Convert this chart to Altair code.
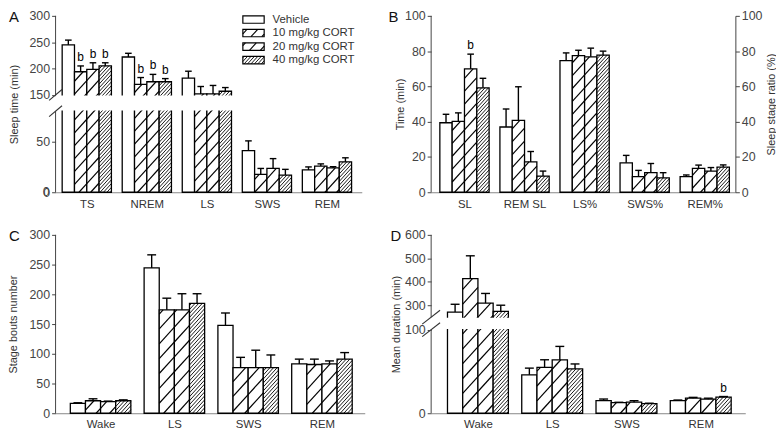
import json
import math
import altair as alt
import numpy as np
import pandas as pd

FONT = "Liberation Sans"
GROUPS = ["Vehicle", "10 mg/kg CORT", "20 mg/kg CORT", "40 mg/kg CORT"]

# ---------------- data ----------------
# Panel A: sleep time (min)
A_cats = ["TS", "NREM", "LS", "SWS", "REM"]
A_vehicle = [245, 222, 182, 41, 22]
A_cort10 = [194, 170, 152, 17.7, 25.8]
A_cort20 = [198.5, 175, 152, 23.5, 24]
A_cort40 = [205, 175, 157, 17, 30]
A_err_vehicle = [9, 7, 13, 9.7, 3]
A_err_cort10 = [11, 13, 14, 5.8, 2.2]
A_err_cort20 = [12.5, 14, 16, 9.7, 1.2]
A_err_cort40 = [6, 6, 7, 5.6, 4]
A_sig = [("TS", 1), ("TS", 2), ("TS", 3), ("NREM", 1), ("NREM", 2), ("NREM", 3)]

# Panel B: latencies (min) and stage ratios (%)
B_cats = ["SL", "REM SL", "LS%", "SWS%", "REM%"]
B_vehicle = [39.4, 37.0, 74.6, 16.7, 8.9]
B_cort10 = [40.2, 40.7, 77.4, 8.9, 13.5]
B_cort20 = [70.0, 17.2, 76.8, 11.1, 12.0]
B_cort40 = [59.2, 9.2, 77.8, 8.1, 14.3]
B_err_vehicle = [4.8, 10.2, 4.4, 4.2, 0.9]
B_err_cort10 = [4.8, 19.1, 3.1, 3.5, 1.9]
B_err_cort20 = [8.3, 5.9, 4.9, 5.2, 2.0]
B_err_cort40 = [5.4, 2.8, 2.2, 3.0, 1.2]
B_sig = [("SL", 2)]

# Panel C: stage bouts number
C_cats = ["Wake", "LS", "SWS", "REM"]
C_vehicle = [16.6, 244.4, 147.6, 83]
C_cort10 = [21, 174, 76.6, 82]
C_cort20 = [19.4, 174, 76.6, 83]
C_cort40 = [21, 184.6, 76.6, 91]
C_err_vehicle = [1, 22, 21, 8]
C_err_cort10 = [3.3, 19.5, 17.4, 9]
C_err_cort20 = [1, 27, 29.4, 5]
C_err_cort40 = [1.5, 16.4, 21.4, 11]
C_sig = []

# Panel D: mean duration (min)
D_cats = ["Wake", "LS", "SWS", "REM"]
D_vehicle = [272, 46, 15, 15]
D_cort10 = [414, 55, 12.6, 18]
D_cort20 = [310, 64, 13.2, 16.8]
D_cort40 = [275, 53, 11.4, 19.2]
D_err_vehicle = [33, 8, 2, 0.8]
D_err_cort10 = [97, 9, 0.5, 1]
D_err_cort20 = [41, 16, 1.8, 1.2]
D_err_cort40 = [26, 6, 0.6, 0.8]
D_sig = [("REM", 3)]

# ---------------- layout (styling, not data) ----------------
A_L = dict(W=309, H=178, xdom=(-0.52, 4.58), ydom=[0, 80, 150, 300],
           yrng=[178, 96.2, 79.8, 0], yticks=[0, 50, 150, 200, 250, 300],
           title="Sleep time (min)", titleX=-36, letter="A", letterX=-47,
           sparse=13, dense=3.8, cap=0.055, brk=(6.5, 5.5), lpad=6)
B_L = dict(W=307, H=178, xdom=(-0.555, 4.51), ydom=[0, 100], yrng=[178, 0],
           yticks=[0, 20, 40, 60, 80, 100], title="Time (min)", titleX=-26,
           letter="B", letterX=-43, sparse=13, dense=3.8, cap=0.055, lpad=6)
C_L = dict(W=312, H=180, xdom=(-0.61, 3.58), ydom=[0, 300], yrng=[180, 0],
           yticks=[0, 50, 100, 150, 200, 250, 300], title="Stage bouts number",
           titleX=-37, letter="C", letterX=-47, sparse=15, dense=4.0, cap=0.06, lpad=5)
D_L = dict(W=317, H=180, xdom=(-0.63, 3.6), ydom=[0, 100, 250, 600],
           yrng=[180, 95.7, 83.1, 0], yticks=[0, 100, 300, 400, 500, 600],
           title="Mean duration (min)", titleX=-30, letter="D", letterX=-41,
           sparse=15, dense=4.0, cap=0.06, brk=(9, 7), lpad=5)

BW = 0.205
SLOPE = 1.1


def hatch(x0, x1, u0, u1, s):
    out = []
    if u1 - u0 <= 0.3:
        return out
    kmin = math.floor((u0 - SLOPE * x1) / s) - 1
    kmax = math.ceil((u1 - SLOPE * x0) / s) + 1
    for k in range(kmin, kmax + 1):
        c = k * s
        xa = max(x0, (u0 - c) / SLOPE)
        xb = min(x1, (u1 - c) / SLOPE)
        if xb - xa > 0.4:
            out.append((xa, SLOPE * xa + c, xb, SLOPE * xb + c))
    return out


def make_panel(cats, means, errs, sig, L, legend=False, right_title=None, zero_label=False):
    W, H = L["W"], L["H"]
    xmin, xmax = L["xdom"]
    pxu = W / (xmax - xmin)
    ydom = L["ydom"]
    u_r = [H - r for r in L["yrng"]]

    def to_u(v):
        return float(np.interp(v, ydom, u_r))

    def to_v(u):
        return float(np.interp(u, u_r, ydom))

    def to_xp(xd):
        return (xd - xmin) * pxu

    def to_xd(xp):
        return xmin + xp / pxu

    xscale = alt.Scale(domain=[xmin, xmax], nice=False, zero=False)
    yscale = alt.Scale(domain=ydom, range=L["yrng"], nice=False, zero=False)
    xaxis = alt.Axis(values=list(range(len(cats))),
                     labelExpr=json.dumps(cats) + "[datum.value]",
                     title=None, ticks=False, tickSize=0, labelPadding=L["lpad"],
                     labelFontSize=11.5, labelColor="#333", domainColor="#888",
                     domainWidth=1, grid=False, labelAngle=0, labelFlush=False,
                     labelOverlap=False)
    yaxis = alt.Axis(values=L["yticks"], title=L["title"], titleX=L["titleX"],
                     titleAngle=-90, titleBaseline="bottom", titleFontSize=11,
                     titleFontWeight="normal", titleColor="#333",
                     labelFontSize=12.5, labelColor="#444", labelPadding=2,
                     tickSize=4, tickColor="#444", domain=False, zindex=1,
                     grid=False, labelFlush=False, labelOverlap=False)

    def X(f):
        return alt.X(f, type="quantitative", scale=xscale, axis=xaxis)

    def Y(f):
        return alt.Y(f, type="quantitative", scale=yscale, axis=yaxis)

    rows = []
    for g, cat in enumerate(cats):
        for k in range(4):
            xc = g + (k - 1.5) * BW
            v = means[k][g]
            rows.append(dict(cat=cat, grp=GROUPS[k], k=k, xc=xc,
                             x0=xc - BW / 2, x1=xc + BW / 2, v=v, base=0,
                             top=v + errs[k][g], c0=xc - L["cap"], c1=xc + L["cap"]))
    bars = pd.DataFrame(rows)

    hrows = []
    for r in rows:
        if r["k"] == 0:
            continue
        s = L["sparse"] if r["k"] < 3 else L["dense"]
        sw = 1.2 if r["k"] < 3 else 0.9
        for xa, ua, xb, ub in hatch(to_xp(r["x0"]), to_xp(r["x1"]), 0.0, to_u(r["v"]), s):
            hrows.append(dict(xa=to_xd(xa), ya=to_v(ua), xb=to_xd(xb), yb=to_v(ub), sw=sw))

    layers = []
    layers.append(alt.Chart(bars).mark_rect(fill="white", stroke="black", strokeWidth=1.3).encode(
        x=X("x0:Q"), x2=alt.X2("x1:Q"), y=Y("v:Q"), y2=alt.Y2("base:Q")))

    hdf = pd.DataFrame(hrows)
    layers.append(alt.Chart(hdf).mark_rule(color="black").encode(
        x=X("xa:Q"), x2=alt.X2("xb:Q"), y=Y("ya:Q"), y2=alt.Y2("yb:Q"),
        strokeWidth=alt.StrokeWidth("sw:Q", scale=None)))

    # legend (panel A only)
    if legend:
        leg_y = [3.7, 17.3, 31.0, 44.7]
        bx0, bx1, bh, tx = 189.0, 210.5, 7.5, 219.0
        lrows, ltext, lh = [], [], []
        for k, yc in enumerate(leg_y):
            uc = H - yc
            lrows.append(dict(bx0=to_xd(bx0), bx1=to_xd(bx1), by0=to_v(uc - bh / 2), by1=to_v(uc + bh / 2)))
            ltext.append(dict(lx=to_xd(tx), ly=to_v(uc), t=GROUPS[k]))
            if k > 0:
                s = 12 if k < 3 else 3.8
                sw = 1.1 if k < 3 else 0.9
                for xa, ua, xb, ub in hatch(bx0, bx1, uc - bh / 2, uc + bh / 2, s):
                    lh.append(dict(hx0=to_xd(xa), hy0=to_v(ua), hx1=to_xd(xb), hy1=to_v(ub), hsw=sw))
        layers.append(alt.Chart(pd.DataFrame(lrows)).mark_rect(fill="white", stroke="black", strokeWidth=1.2).encode(
            x=X("bx0:Q"), x2=alt.X2("bx1:Q"), y=Y("by0:Q"), y2=alt.Y2("by1:Q")))
        layers.append(alt.Chart(pd.DataFrame(lh)).mark_rule(color="black").encode(
            x=X("hx0:Q"), x2=alt.X2("hx1:Q"), y=Y("hy0:Q"), y2=alt.Y2("hy1:Q"),
            strokeWidth=alt.StrokeWidth("hsw:Q", scale=None)))
        layers.append(alt.Chart(pd.DataFrame(ltext)).mark_text(align="left", baseline="middle", fontSize=11.5, color="#333").encode(
            x=X("lx:Q"), y=Y("ly:Q"), text="t:N"))

    broken = len(ydom) == 4
    if broken:
        mdf = pd.DataFrame({"lo": [ydom[1]], "hi": [ydom[2]]})
        layers.append(alt.Chart(mdf).mark_rect(fill="white", yOffset=-0.6, y2Offset=0.6).encode(
            x=alt.value(0.6), x2=alt.value(W + 4), y=Y("lo:Q"), y2=alt.Y2("hi:Q")))

    # y-axis line (broken where the scale is broken)
    if broken:
        adf = pd.DataFrame({"ax": [xmin, xmin], "a0": [ydom[0], ydom[2]], "a1": [ydom[1], ydom[3]]})
    else:
        adf = pd.DataFrame({"ax": [xmin], "a0": [ydom[0]], "a1": [ydom[-1]]})
    layers.append(alt.Chart(adf).mark_rule(color="#444", strokeWidth=1).encode(
        x=X("ax:Q"), y=Y("a0:Q"), y2=alt.Y2("a1:Q")))

    eb = bars[bars["top"] > bars["v"]]
    layers.append(alt.Chart(eb).mark_rule(color="black", strokeWidth=1.4).encode(
        x=X("xc:Q"), y=Y("v:Q"), y2=alt.Y2("top:Q")))
    layers.append(alt.Chart(eb).mark_rule(color="black", strokeWidth=1.4).encode(
        x=X("c0:Q"), x2=alt.X2("c1:Q"), y=Y("top:Q")))

    if sig:
        srows = []
        for cat, k in sig:
            r = bars[(bars["cat"] == cat) & (bars["k"] == k)].iloc[0]
            srows.append(dict(xc=r["xc"], top=r["top"], t="b"))
        layers.append(alt.Chart(pd.DataFrame(srows)).mark_text(baseline="bottom", dy=-2, fontSize=12, color="#000").encode(
            x=X("xc:Q"), y=Y("top:Q"), text="t:N"))

    if broken:
        dx, dy = L["brk"]
        srows = []
        for uc in (u_r[2], u_r[1]):
            srows.append(dict(xa=to_xd(-dx), ya=to_v(uc - dy), xb=to_xd(dx), yb=to_v(uc + dy)))
        layers.append(alt.Chart(pd.DataFrame(srows)).mark_rule(color="#333", strokeWidth=1.1).encode(
            x=X("xa:Q"), x2=alt.X2("xb:Q"), y=Y("ya:Q"), y2=alt.Y2("yb:Q")))

    if zero_label:
        zdf = pd.DataFrame({"z": [ydom[0]], "t": [str(ydom[0])]})
        layers.append(alt.Chart(zdf).mark_text(align="right", baseline="middle", dx=-6,
                                               fontSize=12.5, color="#444").encode(
            x=alt.value(0), y=Y("z:Q"), text="t:N"))

    layers.append(alt.Chart(pd.DataFrame({"t": [L["letter"]]})).mark_text(
        align="left", baseline="top", fontSize=15, color="#111").encode(
        x=alt.value(L["letterX"]), y=alt.value(-6), text="t:N"))

    main = alt.layer(*layers)
    if right_title is not None:
        raxis = alt.Axis(orient="right", values=L["yticks"], title=right_title, titleX=41,
                         titleAngle=-90, titleBaseline="bottom", titleFontSize=11,
                         titleFontWeight="normal", titleColor="#333",
                         labelFontSize=12.5, labelColor="#444", labelPadding=2,
                         tickSize=4, tickColor="#444", domainColor="#444",
                         grid=False, labelFlush=False, labelOverlap=False)
        rdf = pd.DataFrame({"r": [ydom[0], ydom[-1]]})
        right = alt.Chart(rdf).mark_point(opacity=0).encode(
            y=alt.Y("r:Q", scale=alt.Scale(domain=ydom, range=L["yrng"], nice=False, zero=False), axis=raxis))
        return alt.layer(main, right).resolve_scale(y="independent").properties(width=W, height=H)
    return main.properties(width=W, height=H)


A = make_panel(A_cats, [A_vehicle, A_cort10, A_cort20, A_cort40],
               [A_err_vehicle, A_err_cort10, A_err_cort20, A_err_cort40], A_sig, A_L,
               legend=True, zero_label=True)
B = make_panel(B_cats, [B_vehicle, B_cort10, B_cort20, B_cort40],
               [B_err_vehicle, B_err_cort10, B_err_cort20, B_err_cort40], B_sig, B_L,
               right_title="Sleep stage ratio (%)")
C = make_panel(C_cats, [C_vehicle, C_cort10, C_cort20, C_cort40],
               [C_err_vehicle, C_err_cort10, C_err_cort20, C_err_cort40], C_sig, C_L)
D = make_panel(D_cats, [D_vehicle, D_cort10, D_cort20, D_cort40],
               [D_err_vehicle, D_err_cort10, D_err_cort20, D_err_cort40], D_sig, D_L)

chart = alt.concat(A, B, C, D, columns=2, spacing={"row": 43, "column": 67},
                   bounds="flush", align="each").properties(
    padding={"left": 0, "right": 0, "top": 0, "bottom": 0}
).configure_view(stroke=None).configure_axis(
    labelFont=FONT, titleFont=FONT
).configure_text(font=FONT)

chart.save("out.html", embed_options={"renderer": "svg", "actions": False})
